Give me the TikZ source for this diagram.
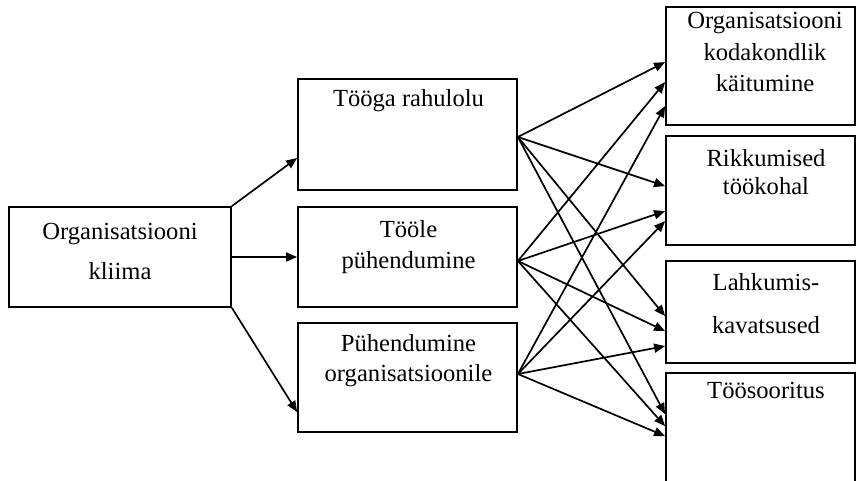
\documentclass[tikz,border=0pt]{standalone}
\usepackage{fontspec}
\setmainfont{Liberation Serif}
\usetikzlibrary{arrows.meta}
\begin{document}
\begin{tikzpicture}[x=1pt,y=-1pt,
  kast/.style={draw,line width=1.8pt,inner sep=0pt},
  tekst/.style={anchor=base,inner sep=0pt,font=\fontsize{24.6}{28}\selectfont},
  nool/.style={line width=1.7pt,-{Triangle[length=11pt,width=9pt]}}]
\useasboundingbox (0,0) rectangle (856,481);
\clip (0,0) rectangle (856,481);
% Kastid
\node[kast,minimum width=222pt,minimum height=100pt] (kliima) at (120,257) {};
\node[kast,minimum width=219pt,minimum height=111pt] (m1) at (407.5,134.5) {};
\node[kast,minimum width=219pt,minimum height=100pt] (m2) at (407.5,257) {};
\node[kast,minimum width=219pt,minimum height=109pt] (m3) at (407.5,377.5) {};
\node[kast,minimum width=189pt,minimum height=118pt] (r1) at (760.5,66) {};
\node[kast,minimum width=189pt,minimum height=109pt] (r2) at (760.5,190.5) {};
\node[kast,minimum width=189pt,minimum height=102pt] (r3) at (760.5,312) {};
\node[kast,minimum width=189pt,minimum height=127pt] (r4) at (760.5,436.5) {};
% Tekstid
\node[tekst] (k1) at (120,239) {Organisatsiooni};
\node[tekst] (k2) at (120,279) {kliima};
\node[tekst] (m1a) at (408.5,107) {Tööga rahulolu};
\node[tekst] (m2a) at (408.5,237) {Tööle};
\node[tekst] (m2b) at (408.5,268) {pühendumine};
\node[tekst] (m3a) at (408.5,351) {Pühendumine};
\node[tekst] (m3b) at (408.5,381) {organisatsioonile};
\node[tekst] (r1a) at (765,29) {Organisatsiooni};
\node[tekst] (r1b) at (765,61) {kodakondlik};
\node[tekst] (r1c) at (765,92) {käitumine};
\node[tekst] (r2a) at (766,167) {Rikkumised};
\node[tekst] (r2b) at (766,195) {töökohal};
\node[tekst] (r3a) at (766,290) {Lahkumis-};
\node[tekst] (r3b) at (766,333) {kavatsused};
\node[tekst] (r4a) at (766,398) {Töösooritus};
% Nooled vasakult
\draw[nool] (kliima.north east) -- ([yshift=-23.5pt]m1.west);
\draw[nool] (kliima.east) -- (m2.west);
\draw[nool] (kliima.south east) -- ([yshift=-34.5pt]m3.west);
% Nooled paremale
\coordinate (s1) at ([yshift=-2.5pt]m1.east);
\coordinate (s2) at ([yshift=-4pt]m2.east);
\coordinate (s3) at ([yshift=3.5pt]m3.east);
\foreach \r/\a/\b/\c in {r1/56/76/100, r2/51/76/86, r3/56/71/86, r4/42/54/64} {
    \draw[nool] (s1) -- ([yshift=-\a pt]\r.north west);
    \draw[nool] (s2) -- ([yshift=-\b pt]\r.north west);
    \draw[nool] (s3) -- ([yshift=-\c pt]\r.north west);
}
\end{tikzpicture}
\end{document}
